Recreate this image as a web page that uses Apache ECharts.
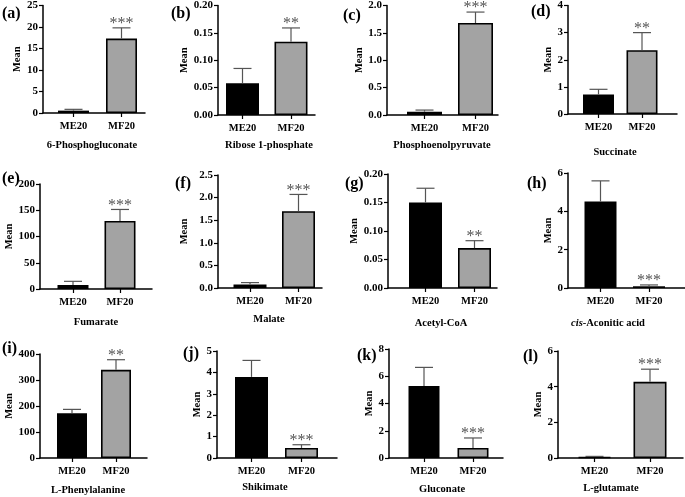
<!DOCTYPE html>
<html>
<head>
<meta charset="utf-8">
<script src="https://cdn.jsdelivr.net/npm/echarts@6/dist/echarts.min.js"></script>
<style>
  html, body { margin: 0; padding: 0; background: #fff; }
  #main { width: 685px; height: 497px; }
</style>
</head>
<body>
<div id="main"></div>
<script>
// --- data ---
const groups = ['ME20', 'MF20'];
const metabolites = ['6-Phosphogluconate', 'Ribose 1-phosphate', 'Phosphoenolpyruvate', 'Succinate',
  'Fumarate', 'Malate', 'Acetyl-CoA', '{i|cis}-Aconitic acid',
  'L-Phenylalanine', 'Shikimate', 'Gluconate', 'L-glutamate'];
const panelLetters = ['(a)', '(b)', '(c)', '(d)', '(e)', '(f)', '(g)', '(h)', '(i)', '(j)', '(k)', '(l)'];
const meanME20 = [0.55, 0.058, 0.06, 0.72, 7.6, 0.08, 0.150, 4.51, 172, 3.79, 5.28, 0.06];
const sdME20 = [0.3, 0.027, 0.03, 0.19, 7, 0.04, 0.025, 1.08, 15, 0.77, 1.37, 0.03];
const meanMF20 = [17.3, 0.134, 1.68, 2.35, 129.5, 1.70, 0.070, 0.09, 339, 0.47, 0.74, 4.27];
const sdMF20 = [2.5, 0.025, 0.2, 0.65, 22, 0.37, 0.013, 0.07, 39, 0.15, 0.73, 0.71];
const significance = ['***', '**', '***', '**', '***', '***', '**', '***', '**', '***', '***', '***'];
const yMax = [25, 0.2, 2, 4, 200, 2.5, 0.2, 6, 400, 5, 8, 6];
const yStep = [5, 0.05, 0.5, 1, 50, 0.5, 0.05, 2, 100, 1, 2, 2];
const yDecimals = [0, 2, 1, 0, 0, 1, 2, 0, 0, 0, 0, 0];

// --- layout of each panel (pixels) ---
// L/R: axis left/right, T/B: top/bottom of value axis, c1/c2: bar centres
const layout = [
  { L: 43, R: 145, T: 5, B: 113, c1: 73.5, c2: 121.5, bw: 31, gap: 19, tx: 92, ty: 145, lx: 2, ly: 14 },
  { L: 218, R: 315, T: 5, B: 115, c1: 242.5, c2: 291, bw: 33, gap: 27, tx: 269, ty: 145, lx: 171, ly: 14 },
  { L: 387, R: 498, T: 5, B: 115, c1: 424.5, c2: 475.5, bw: 35, gap: 22, tx: 442, ty: 145, lx: 343, ly: 16 },
  { L: 568, R: 677, T: 5, B: 114, c1: 598.5, c2: 642, bw: 31, gap: 14, tx: 615, ty: 152, lx: 531, ly: 12 },
  { L: 40, R: 152, T: 184, B: 289, c1: 73, c2: 120, bw: 31, gap: 23, tx: 96, ty: 322, lx: 2, ly: 179 },
  { L: 218, R: 322, T: 175, B: 288, c1: 250, c2: 298.5, bw: 33, gap: 28, tx: 269, ty: 319, lx: 175, ly: 184 },
  { L: 388, R: 497, T: 174, B: 288, c1: 425.5, c2: 474.5, bw: 33, gap: 28, tx: 441, ty: 323, lx: 345, ly: 184 },
  { L: 568, R: 685, T: 173, B: 288, c1: 600.5, c2: 649, bw: 32, gap: 14, tx: 608, ty: 323, lx: 527, ly: 184 },
  { L: 40, R: 147, T: 354, B: 458, c1: 72, c2: 116, bw: 30, gap: 22, tx: 88, ty: 490, lx: 2, ly: 349 },
  { L: 217, R: 337, T: 351, B: 458, c1: 251.5, c2: 301.5, bw: 33, gap: 13, tx: 265, ty: 487, lx: 183, ly: 354 },
  { L: 389, R: 503, T: 349, B: 458, c1: 424, c2: 473, bw: 31, gap: 13, tx: 442, ty: 489, lx: 357, ly: 356 },
  { L: 558, R: 683, T: 351, B: 458, c1: 594.5, c2: 650, bw: 33, gap: 4, tx: 611, ty: 488, lx: 523, ly: 357 }
];

const FONT = '"Liberation Serif", "Times New Roman", serif';
const barColors = ['#000000', '#a3a3a3'];
const axisColor = '#000';

const chart = echarts.init(document.getElementById('main'), null, { renderer: 'canvas' });

const grids = [], xAxes = [], yAxes = [], series = [], graphics = [];

function makeErrorRender(i) {
  return function (params, api) {
    const x = api.value(0), m = api.value(1), u = api.value(2);
    const p0 = api.coord([x, m]);
    const p1 = api.coord([x, u]);
    const st = { stroke: '#555', lineWidth: 1.2 };
    const children = [
      { type: 'line', shape: { x1: p0[0], y1: p0[1], x2: p1[0], y2: p1[1] }, style: st },
      { type: 'line', shape: { x1: p1[0] - 9, y1: p1[1], x2: p1[0] + 9, y2: p1[1] }, style: st }
    ];
    if (params.dataIndex === 1) {
      children.push({
        type: 'text',
        style: {
          text: significance[i], x: p1[0], y: p1[1] + 4,
          fontSize: 16, fontFamily: FONT, fill: '#555',
          align: 'center', verticalAlign: 'bottom'
        }
      });
    }
    return { type: 'group', children: children };
  };
}

layout.forEach(function (g, i) {
  const sp = g.c2 - g.c1;
  grids.push({ left: g.L, top: g.T, width: g.R - g.L, height: g.B - g.T, containLabel: false });
  xAxes.push({
    type: 'value', gridIndex: i,
    min: 1 - (g.c1 - g.L) / sp, max: 1 + (g.R - g.c1) / sp,
    axisLine: { show: true, onZero: false, lineStyle: { color: axisColor, width: 1.5 } },
    axisTick: { show: true, customValues: [1, 2], length: 4, lineStyle: { color: axisColor, width: 1.2 } },
    axisLabel: {
      customValues: [1, 2], margin: 8,
      formatter: function (v) { return groups[Math.round(v) - 1]; },
      color: '#000', fontFamily: FONT, fontWeight: 'bold', fontSize: 10.5
    },
    splitLine: { show: false }
  });
  yAxes.push({
    type: 'value', gridIndex: i,
    min: 0, max: yMax[i], interval: yStep[i],
    name: 'Mean', nameLocation: 'middle', nameGap: g.gap,
    nameTextStyle: { color: '#000', fontFamily: FONT, fontWeight: 'bold', fontSize: 10.5 },
    axisLine: { show: true, lineStyle: { color: axisColor, width: 1.5 } },
    axisTick: { show: true, length: 4, lineStyle: { color: axisColor, width: 1.2 } },
    axisLabel: {
      margin: 5, color: '#000', fontFamily: FONT, fontWeight: 'bold', fontSize: 11,
      formatter: function (v) { return v.toFixed(yDecimals[i]); }
    },
    splitLine: { show: false }
  });
  series.push({
    type: 'bar', xAxisIndex: i, yAxisIndex: i,
    barWidth: g.bw,
    data: [
      { value: [1, meanME20[i]], itemStyle: { color: barColors[0] } },
      { value: [2, meanMF20[i]], itemStyle: { color: barColors[1] } }
    ],
    itemStyle: { borderColor: '#000', borderWidth: 1.6 },
    animation: false, silent: true
  });
  series.push({
    type: 'custom', xAxisIndex: i, yAxisIndex: i, z: 5,
    renderItem: makeErrorRender(i),
    encode: { x: 0, y: [1, 2] },
    data: [
      [1, meanME20[i], meanME20[i] + sdME20[i]],
      [2, meanMF20[i], meanMF20[i] + sdMF20[i]]
    ],
    animation: false, silent: true
  });
  graphics.push({
    type: 'text', x: g.tx, y: g.ty,
    style: {
      text: metabolites[i], fill: '#000',
      fontFamily: FONT, fontWeight: 'bold', fontSize: 10.5,
      align: 'center', verticalAlign: 'middle',
      rich: { i: { fontStyle: 'italic', fontWeight: 'bold', fontFamily: FONT, fontSize: 10.5, fill: '#000' } }
    }
  });
  graphics.push({
    type: 'text', x: g.lx, y: g.ly,
    style: {
      text: panelLetters[i], fill: '#000',
      fontFamily: FONT, fontWeight: 'bold', fontSize: 16,
      align: 'left', verticalAlign: 'middle'
    }
  });
});

chart.setOption({
  backgroundColor: '#fff',
  animation: false,
  grid: grids,
  xAxis: xAxes,
  yAxis: yAxes,
  series: series,
  graphic: graphics
});
</script>
</body>
</html>
